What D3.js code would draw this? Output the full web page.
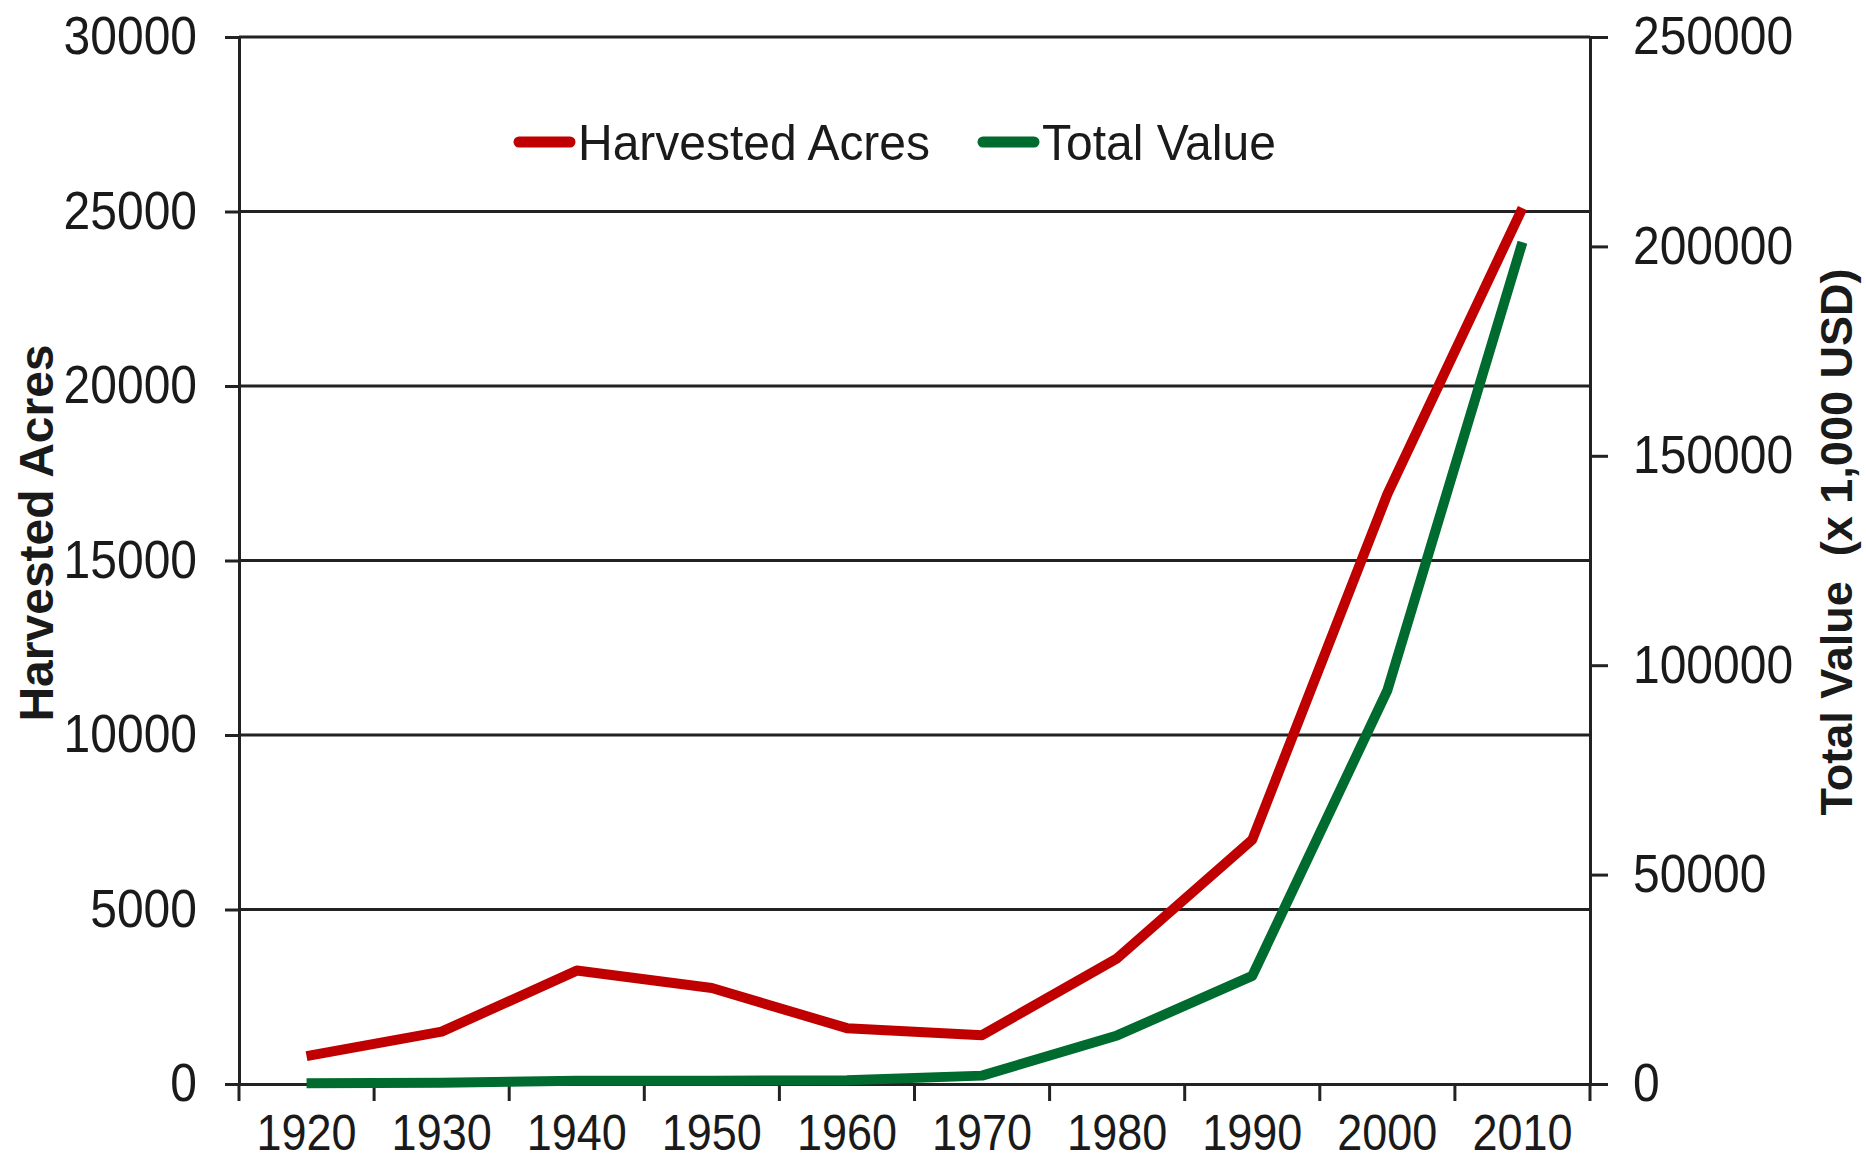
<!DOCTYPE html>
<html>
  <head>
    <meta charset="utf-8">
    <title>Harvested Acres and Total Value</title>
    <style>
      body { margin: 0; background: white; }
      text { font-family: "Liberation Sans", Arial, sans-serif; fill: #1a1a1a; }
      .axis path, .axis line { stroke: #222; stroke-width: 3; fill: none; }
      .grid line { stroke: #222; stroke-width: 3; }
      .y.axis .tick text { font-size: 48px; }
      .x.axis .tick text { font-size: 45px; }
      .title { font-weight: bold; }
      .legend text { font-size: 48px; }
      .series { fill: none; stroke-width: 10; stroke-linejoin: round; }
    </style>
    <script src="https://d3js.org/d3.v7.min.js"></script>
  </head>
  <body>
    <script>
      const years = ['1920', '1930', '1940', '1950', '1960', '1970', '1980', '1990', '2000', '2010'];
      const acres = [800, 1500, 3250, 2750, 1600, 1400, 3600, 7000, 16900, 25100];
      const totalValue = [200, 300, 800, 800, 900, 2000, 11600, 25800, 94000, 201000];
      const acreTicks = [0, 5000, 10000, 15000, 20000, 25000, 30000];
      const valueTicks = [0, 50000, 100000, 150000, 200000, 250000];

      const width = 1866, height = 1164;
      const plot = { left: 239, right: 1590, top: 37, bottom: 1084 };

      const svg = d3.select('body').append('svg')
        .attr('width', width)
        .attr('height', height);

      const x = d3.scaleBand().domain(years).range([plot.left, plot.right]);
      const yL = d3.scaleLinear().domain([0, 30000]).range([plot.bottom, plot.top]);
      const yR = d3.scaleLinear().domain([0, 250000]).range([plot.bottom, plot.top]);

      // gridlines
      svg.append('g').attr('class', 'grid')
        .selectAll('line').data(acreTicks.slice(1)).enter().append('line')
          .attr('x1', plot.left).attr('x2', plot.right)
          .attr('y1', d => yL(d)).attr('y2', d => yL(d));

      // left axis
      svg.append('g').attr('class', 'y axis')
        .attr('transform', `translate(${plot.left},0)`)
        .call(d3.axisLeft(yL).tickValues(acreTicks).tickSize(14).tickPadding(28).tickFormat(d3.format('d')))
        .selectAll('.tick text').attr('transform', 'scale(1,1.1)');

      // right axis
      svg.append('g').attr('class', 'y axis')
        .attr('transform', `translate(${plot.right},0)`)
        .call(d3.axisRight(yR).tickValues(valueTicks).tickSize(18).tickPadding(25).tickFormat(d3.format('d')))
        .selectAll('.tick text').attr('transform', 'scale(1,1.1)');

      // bottom axis: labels at band centers, ticks at band edges
      const xAxis = svg.append('g').attr('class', 'x axis')
        .attr('transform', `translate(0,${plot.bottom})`)
        .call(d3.axisBottom(x).tickSize(0).tickPadding(29).tickSizeOuter(0));
      xAxis.selectAll('.tick text').attr('transform', 'scale(1,1.09)');
      xAxis.selectAll('.edge').data(years.concat(['end'])).enter().append('line')
        .attr('class', 'edge')
        .attr('x1', d => d === 'end' ? plot.right : x(d))
        .attr('x2', d => d === 'end' ? plot.right : x(d))
        .attr('y1', 0).attr('y2', 17);

      // lines
      const lineL = d3.line().x((d, i) => x(years[i]) + x.bandwidth() / 2).y(d => yL(d));
      const lineR = d3.line().x((d, i) => x(years[i]) + x.bandwidth() / 2).y(d => yR(d));

      svg.append('path').attr('class', 'series').attr('stroke', '#006b2e').attr('d', lineR(totalValue));
      svg.append('path').attr('class', 'series').attr('stroke', '#c00000').attr('d', lineL(acres));

      // axis titles
      svg.append('text').attr('class', 'title')
        .attr('transform', `translate(53,533) rotate(-90)`)
        .attr('text-anchor', 'middle')
        .style('font-size', '48px')
        .text('Harvested Acres');
      svg.append('text').attr('class', 'title')
        .attr('transform', `translate(1852,542) rotate(-90)`)
        .attr('text-anchor', 'middle')
        .attr('xml:space', 'preserve')
        .style('font-size', '45px')
        .text('Total Value  (x 1,000 USD)');

      // legend
      const legend = svg.append('g').attr('class', 'legend');
      const items = [
        { name: 'Harvested Acres', color: '#c00000', x: 519 },
        { name: 'Total Value', color: '#006b2e', x: 983 }
      ];
      items.forEach(it => {
        legend.append('line')
          .attr('x1', it.x).attr('x2', it.x + 51)
          .attr('y1', 142).attr('y2', 142)
          .attr('stroke', it.color).attr('stroke-width', 11).attr('stroke-linecap', 'round');
        legend.append('text')
          .attr('x', it.x + 59).attr('y', 142).attr('dy', '0.36em')
          .attr('transform', `translate(0,${142 * -0.04}) scale(1,1.04)`)
          .text(it.name);
      });
    </script>
  </body>
</html>
